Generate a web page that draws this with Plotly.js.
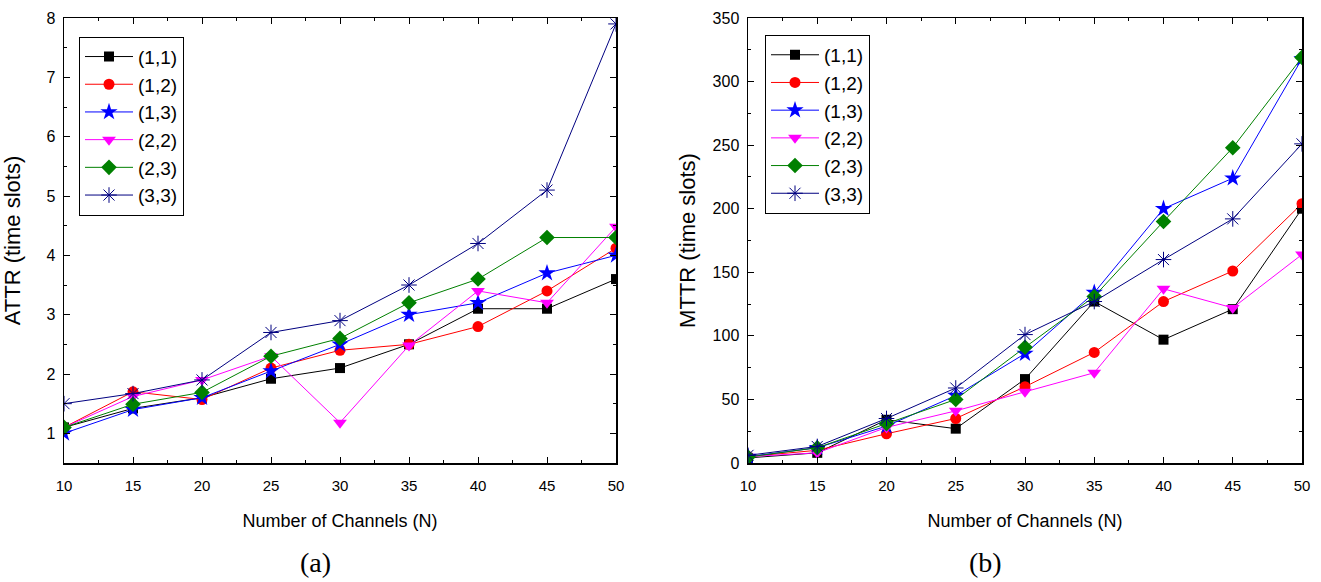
<!DOCTYPE html>
<html><head><meta charset="utf-8">
<script src="https://cdn.plot.ly/plotly-3.0.1.min.js"></script>
<style>html,body{margin:0;padding:0;background:#fff}#plot{width:1321px;height:582px}</style>
</head><body><div id="plot"></div>
<script>
const channels = [10, 15, 20, 25, 30, 35, 40, 45, 50];
const seriesNames = ['(1,1)', '(1,2)', '(1,3)', '(2,2)', '(2,3)', '(3,3)'];

// ATTR (a)
const attr11 = [1.1, 1.42, 1.6, 1.92, 2.1, 2.5, 3.1, 3.1, 3.6];
const attr12 = [1.1, 1.7, 1.57, 2.1, 2.4, 2.5, 2.8, 3.4, 4.12];
const attr13 = [1.0, 1.4, 1.6, 2.05, 2.5, 3.0, 3.2, 3.7, 4.0];
const attr22 = [1.1, 1.62, 1.9, 2.3, 1.18, 2.48, 3.4, 3.2, 4.48];
const attr23 = [1.1, 1.49, 1.69, 2.3, 2.6, 3.2, 3.6, 4.3, 4.3];
const attr33 = [1.5, 1.67, 1.9, 2.7, 2.9, 3.5, 4.2, 5.1, 7.9];

// MTTR (b)
const mttr11 = [4, 8, 34, 27, 66, 127, 97, 121, 200];
const mttr12 = [5, 10, 23, 35, 60, 87, 127, 151, 204];
const mttr13 = [5, 12, 29, 53, 86, 134, 200, 224, 318];
const mttr22 = [5, 8, 28, 41, 56, 71, 137, 122, 164];
const mttr23 = [4.7, 12, 31, 50, 91, 131, 190, 248, 319];
const mttr33 = [6, 13, 35, 59, 101, 127, 160, 192, 251];

const colors = ['#000000', '#FF0000', '#0000FF', '#FF00FF', '#008000', '#000080'];
const symbols = ['square', 'circle', 'star', 'triangle-down', 'diamond', 'asterisk-open'];
const sizes = [10, 11, 13, 12, 12, 13];
const attrData = [attr11, attr12, attr13, attr22, attr23, attr33];
const mttrData = [mttr11, mttr12, mttr13, mttr22, mttr23, mttr33];

const traces = [];
function addSet(data, xa, ya, leg) {
  data.forEach((vals, i) => {
    traces.push({
      x: channels, y: vals, xaxis: xa, yaxis: ya, legend: leg,
      type: 'scatter', mode: 'lines+markers', name: seriesNames[i],
      line: {color: colors[i], width: 1},
      marker: {color: colors[i], symbol: symbols[i], size: sizes[i],
               line: {color: colors[i], width: i === 5 ? 1 : 0}}
    });
  });
}
addSet(attrData, 'x', 'y', 'legend');
addSet(mttrData, 'x2', 'y2', 'legend2');

const fam = 'Liberation Sans, Arial, sans-serif';
const xTickFont = {family: fam, size: 15, color: '#000'};
const yTickFont = {family: fam, size: 16, color: '#000'};
const xTitleFont = {family: fam, size: 18, color: '#000'};
const yTitleFont = {family: fam, size: 22, color: '#000'};
const legFont = {family: fam, size: 19, color: '#000'};

function xax(domain, anchor) {
  return {
    domain: domain, anchor: anchor, range: [10, 50], tickvals: channels,
    ticks: 'inside', ticklen: 6, tickwidth: 1, tickcolor: '#000',
    minor: {dtick: 2.5, ticks: 'inside', ticklen: 3, tickcolor: '#000'},
    showline: true, linecolor: '#000', linewidth: 1.5, mirror: 'allticks',
    showgrid: false, zeroline: false, tickfont: xTickFont, automargin: false,
    ticklabelstandoff: 8,
    title: {text: 'Number of Channels (N)', font: xTitleFont, standoff: 22}
  };
}
function yax(domain, anchor, range, dtick, minor, title, standoff) {
  return {
    domain: domain, anchor: anchor, range: range, dtick: dtick, tick0: 0,
    ticks: 'inside', ticklen: 6, tickwidth: 1, tickcolor: '#000',
    minor: {dtick: minor, ticks: 'inside', ticklen: 3, tickcolor: '#000'},
    showline: true, linecolor: '#000', linewidth: 1.5, mirror: 'allticks',
    showgrid: false, zeroline: false, tickfont: yTickFont, automargin: false,
    ticklabelstandoff: 4,
    title: {text: title, font: yTitleFont, standoff: standoff}
  };
}

const layout = {
  width: 1321, height: 582,
  margin: {l: 0, r: 0, t: 18, b: 119},
  paper_bgcolor: '#fff', plot_bgcolor: '#fff',
  font: xTickFont,
  xaxis: xax([64/1321, 616/1321], 'y'),
  yaxis: yax([0, 1], 'x', [0.5, 8], 1, 0.5, 'ATTR (time slots)', 19),
  xaxis2: xax([748/1321, 1302/1321], 'y2'),
  yaxis2: yax([0, 1], 'x2', [0, 350], 50, 25, 'MTTR (time slots)', 11),
  legend: {x: 79/1321, y: 0.958, xanchor: 'left', yanchor: 'top',
           bgcolor: '#fff', bordercolor: '#000', borderwidth: 1,
           font: legFont, tracegroupgap: 0, itemwidth: 48},
  legend2: {x: 765/1321, y: 0.962, xanchor: 'left', yanchor: 'top',
           bgcolor: '#fff', bordercolor: '#000', borderwidth: 1,
           font: legFont, tracegroupgap: 0, itemwidth: 48},
  annotations: [
    {text: '(a)', x: 315/1321, y: -0.2247, xref: 'paper', yref: 'paper', showarrow: false,
     xanchor: 'center', yanchor: 'middle',
     font: {family: 'Liberation Serif, Times New Roman, serif', size: 28, color: '#000'}},
    {text: '(b)', x: 985/1321, y: -0.2247, xref: 'paper', yref: 'paper', showarrow: false,
     xanchor: 'center', yanchor: 'middle',
     font: {family: 'Liberation Serif, Times New Roman, serif', size: 28, color: '#000'}}
  ],
  showlegend: true
};

Plotly.newPlot('plot', traces, layout, {displayModeBar: false, staticPlot: true});
</script>
</body></html>
